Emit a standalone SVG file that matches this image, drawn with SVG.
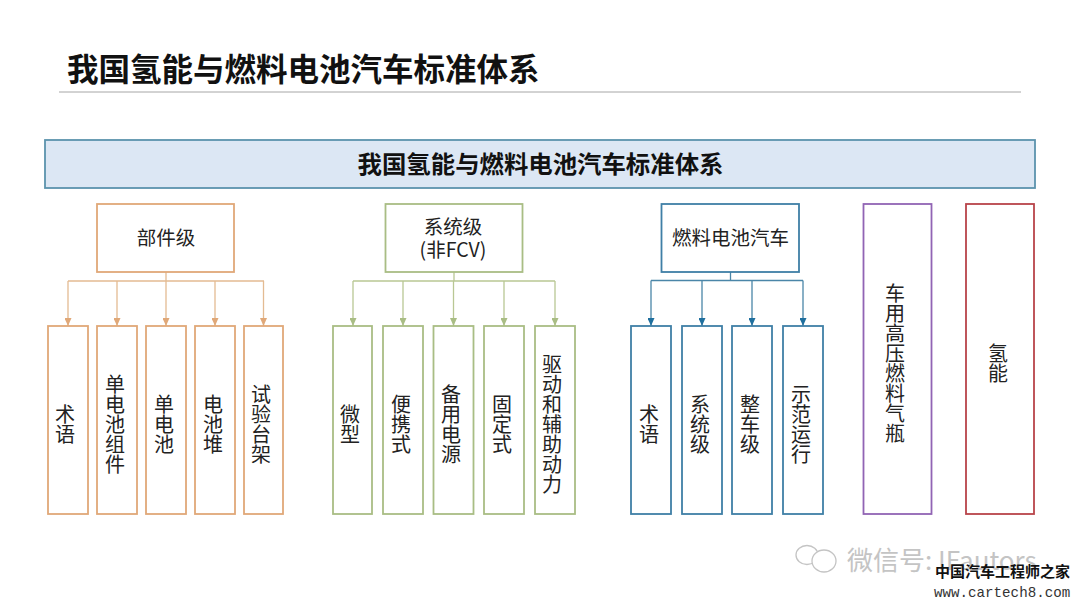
<svg xmlns="http://www.w3.org/2000/svg" width="1080" height="608" viewBox="0 0 1080 608">
<style>
text{font-family:"Liberation Sans","Noto Sans CJK SC",sans-serif;fill:#222}
.cjk{font-family:"Noto Sans CJK SC","Liberation Sans",sans-serif}
.title{font-size:31.500px;font-weight:700;fill:#111}
.banner{font-size:24.400px;font-weight:700;fill:#111}
.hd{font-size:19.500px;text-anchor:middle}
.v{font-size:20px;text-anchor:middle}
.box{fill:#fff;stroke-width:1.800}
.o{stroke:#e0a878}.g{stroke:#a9bd84}.b{stroke:#3f7fa6}.p{stroke:#9164b4}.r{stroke:#b8444a}
.lo,.lg,.lb{fill:none;stroke-width:1.300}
.lo{stroke:#e3bb92}.lg{stroke:#b9c794}.lb{stroke:#4a86a8}
</style>
<defs>
<marker id="ao" markerWidth="8" markerHeight="7" refX="8" refY="3.500" orient="auto" markerUnits="userSpaceOnUse" viewBox="0 0 8 7"><path d="M0 0L8 3.500L0 7Z" fill="#e0a878"/></marker>
<marker id="ag" markerWidth="8" markerHeight="7" refX="8" refY="3.500" orient="auto" markerUnits="userSpaceOnUse" viewBox="0 0 8 7"><path d="M0 0L8 3.500L0 7Z" fill="#a9bd84"/></marker>
<marker id="ab" markerWidth="8" markerHeight="7" refX="8" refY="3.500" orient="auto" markerUnits="userSpaceOnUse" viewBox="0 0 8 7"><path d="M0 0L8 3.500L0 7Z" fill="#1f6f9e"/></marker>
</defs>
<rect width="1080" height="608" fill="#fff"/>
<text class="title cjk" x="67" y="81">我国氢能与燃料电池汽车标准体系</text>
<line x1="59" y1="92" x2="1021" y2="92" stroke="#a6a6a6" stroke-width="1"/>
<g id="banner"><rect x="45" y="140" width="990" height="48" fill="#dce7f4" stroke="#5b93ad" stroke-width="1.800"/><text class="banner cjk" x="540.500" y="173" text-anchor="middle">我国氢能与燃料电池汽车标准体系</text></g>
<g id="connectors">
<path class="lo" d="M166 272V281M68 281H264"/>
<path class="lo" marker-end="url(#ao)" d="M68 281V326"/><path class="lo" marker-end="url(#ao)" d="M117 281V326"/><path class="lo" marker-end="url(#ao)" d="M166 281V326"/><path class="lo" marker-end="url(#ao)" d="M215 281V326"/><path class="lo" marker-end="url(#ao)" d="M263.500 281V326"/>
<path class="lg" d="M454 272V281M353 281H555"/>
<path class="lg" marker-end="url(#ag)" d="M353 281V326"/><path class="lg" marker-end="url(#ag)" d="M403 281V326"/><path class="lg" marker-end="url(#ag)" d="M453.500 281V326"/><path class="lg" marker-end="url(#ag)" d="M504 281V326"/><path class="lg" marker-end="url(#ag)" d="M555 281V326"/>
<path class="lb" d="M730.500 272V280.500M651 280.500H803"/>
<path class="lb" marker-end="url(#ab)" d="M651 280.500V326"/><path class="lb" marker-end="url(#ab)" d="M702 280.500V326"/><path class="lb" marker-end="url(#ab)" d="M752 280.500V326"/><path class="lb" marker-end="url(#ab)" d="M803 280.500V326"/>
</g>
<g id="n-bujian"><rect class="box o" x="97" y="204" width="137" height="68"/><text class="hd cjk" x="166" y="245">部件级</text></g>
<g id="n-xitong"><rect class="box g" x="385.500" y="204" width="137" height="68"/><text class="hd cjk" x="453" y="234">系统级</text><text class="hd cjk" x="453" y="257">(非FCV)</text></g>
<g id="n-fcv"><rect class="box b" x="661.500" y="204" width="137.500" height="68"/><text class="hd cjk" x="730.500" y="245">燃料电池汽车</text></g>
<g id="o1"><rect class="box o" x="48" y="326" width="40" height="188"/><text class="v cjk" y="422"><tspan x="65" dy="0">术</tspan><tspan x="65" dy="20">语</tspan></text></g>
<g id="o2"><rect class="box o" x="97" y="326" width="40" height="188"/><text class="v cjk" y="392"><tspan x="115" dy="0">单</tspan><tspan x="115" dy="20">电</tspan><tspan x="115" dy="20">池</tspan><tspan x="115" dy="20">组</tspan><tspan x="115" dy="20">件</tspan></text></g>
<g id="o3"><rect class="box o" x="146" y="326" width="40" height="188"/><text class="v cjk" y="412"><tspan x="164" dy="0">单</tspan><tspan x="164" dy="20">电</tspan><tspan x="164" dy="20">池</tspan></text></g>
<g id="o4"><rect class="box o" x="195" y="326" width="40" height="188"/><text class="v cjk" y="412"><tspan x="213" dy="0">电</tspan><tspan x="213" dy="20">池</tspan><tspan x="213" dy="20">堆</tspan></text></g>
<g id="o5"><rect class="box o" x="244" y="326" width="39" height="188"/><text class="v cjk" y="402"><tspan x="261" dy="0">试</tspan><tspan x="261" dy="20">验</tspan><tspan x="261" dy="20">台</tspan><tspan x="261" dy="20">架</tspan></text></g>
<g id="g1"><rect class="box g" x="333" y="326" width="39" height="188"/><text class="v cjk" y="422"><tspan x="350" dy="0">微</tspan><tspan x="350" dy="20">型</tspan></text></g>
<g id="g2"><rect class="box g" x="383" y="326" width="40" height="188"/><text class="v cjk" y="412"><tspan x="401" dy="0">便</tspan><tspan x="401" dy="20">携</tspan><tspan x="401" dy="20">式</tspan></text></g>
<g id="g3"><rect class="box g" x="433.500" y="326" width="40" height="188"/><text class="v cjk" y="402"><tspan x="451" dy="0">备</tspan><tspan x="451" dy="20">用</tspan><tspan x="451" dy="20">电</tspan><tspan x="451" dy="20">源</tspan></text></g>
<g id="g4"><rect class="box g" x="484" y="326" width="40" height="188"/><text class="v cjk" y="412"><tspan x="502" dy="0">固</tspan><tspan x="502" dy="20">定</tspan><tspan x="502" dy="20">式</tspan></text></g>
<g id="g5"><rect class="box g" x="535" y="326" width="40" height="188"/><text class="v cjk" y="372"><tspan x="552" dy="0">驱</tspan><tspan x="552" dy="20">动</tspan><tspan x="552" dy="20">和</tspan><tspan x="552" dy="20">辅</tspan><tspan x="552" dy="20">助</tspan><tspan x="552" dy="20">动</tspan><tspan x="552" dy="20">力</tspan></text></g>
<g id="b1"><rect class="box b" x="631" y="326" width="40" height="188"/><text class="v cjk" y="422"><tspan x="649" dy="0">术</tspan><tspan x="649" dy="20">语</tspan></text></g>
<g id="b2"><rect class="box b" x="682" y="326" width="40" height="188"/><text class="v cjk" y="412"><tspan x="700" dy="0">系</tspan><tspan x="700" dy="20">统</tspan><tspan x="700" dy="20">级</tspan></text></g>
<g id="b3"><rect class="box b" x="732" y="326" width="40" height="188"/><text class="v cjk" y="412"><tspan x="750" dy="0">整</tspan><tspan x="750" dy="20">车</tspan><tspan x="750" dy="20">级</tspan></text></g>
<g id="b4"><rect class="box b" x="783" y="326" width="40" height="188"/><text class="v cjk" y="402"><tspan x="801" dy="0">示</tspan><tspan x="801" dy="20">范</tspan><tspan x="801" dy="20">运</tspan><tspan x="801" dy="20">行</tspan></text></g>
<g id="n-ping"><rect class="box p" x="863.500" y="204" width="68" height="310"/><text class="v cjk" y="301"><tspan x="895" dy="0">车</tspan><tspan x="895" dy="20">用</tspan><tspan x="895" dy="20">高</tspan><tspan x="895" dy="20">压</tspan><tspan x="895" dy="20">燃</tspan><tspan x="895" dy="20">料</tspan><tspan x="895" dy="20">气</tspan><tspan x="895" dy="20">瓶</tspan></text></g>
<g id="n-qing"><rect class="box r" x="966" y="204" width="68" height="310"/><text class="v cjk" y="361"><tspan x="998" dy="0">氢</tspan><tspan x="998" dy="20">能</tspan></text></g>
<g id="watermark">
<g fill="#fff" stroke="#c4c4c4" stroke-width="1.300"><ellipse cx="807" cy="555" rx="11" ry="9.500"/><ellipse cx="824" cy="561" rx="12" ry="11"/></g>
<text class="cjk" x="847" y="570" font-size="26" style="fill:#c4c4c4">微信号: IFautors</text>
<text class="cjk" x="935" y="577" font-size="15" font-weight="700" style="fill:#111">中国汽车工程师之家</text>
<text x="934" y="597" font-size="14.200" style="font-family:'Liberation Mono',monospace;fill:#333">www.cartech8.com</text>
</g>
</svg>
